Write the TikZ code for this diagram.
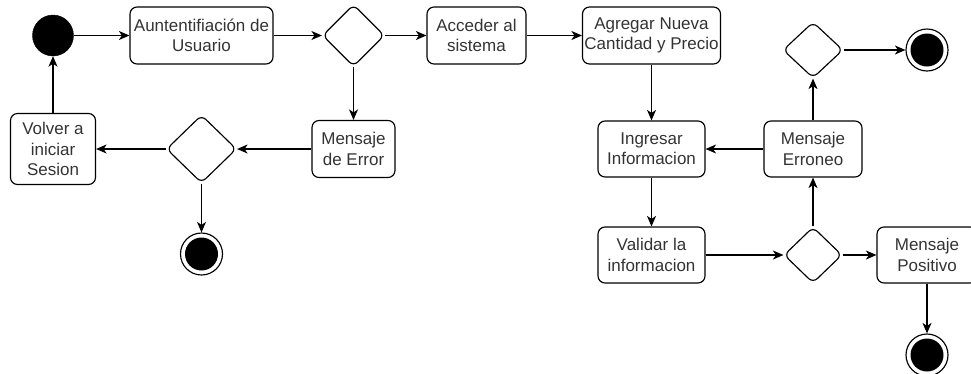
\documentclass[tikz,border=0pt]{standalone}
\usepackage{fontspec}
\setmainfont{Liberation Sans}
\usetikzlibrary{shapes.geometric,arrows.meta}
\definecolor{txt}{HTML}{333333}
\begin{document}
\begin{tikzpicture}[x=1pt,y=-1pt,
  every node/.style={font=\fontsize{17}{20.4}\selectfont, text=txt},
  box/.style={draw, rounded corners=7pt, line width=1.15pt, align=center, inner sep=0pt},
  dec/.style={draw, diamond, rounded corners=6pt, line width=1.15pt, inner sep=0pt},
  startst/.style={circle, fill=black, draw=black, inner sep=0pt, minimum size=41pt},
  endst/.style={circle, draw=black, line width=1.15pt, inner sep=0pt, minimum size=42pt,
    path picture={\fill[black] (path picture bounding box.center) circle (16.5pt);}},
  flow/.style={line width=1.15pt, -{Stealth[length=10.5pt,width=9pt,inset=3pt]}}
]
\useasboundingbox (0,0) rectangle (971,373);

% top row
\node[startst] (start) at (53,35.5) {};
\node[box, minimum width=143pt, minimum height=57pt] (auth) at (201.5,35.5) {Auntentifiación de\\Usuario};
\node[dec, minimum width=62pt, minimum height=62pt] (d1) at (353.5,35.5) {};
\node[box, minimum width=99pt, minimum height=57pt] (acc) at (476.5,35.5) {Acceder al\\sistema};
\node[box, minimum width=138pt, minimum height=57pt] (agr) at (651.5,35.5) {Agregar Nueva\\Cantidad y Precio};
\node[dec, minimum width=60pt, minimum height=56pt] (d2) at (813,50) {};
\node[endst] (end1) at (927,50) {};

% middle row
\node[box, minimum width=85pt, minimum height=71pt] (vol) at (53,149) {Volver a\\iniciar\\Sesion};
\node[dec, minimum width=70pt, minimum height=68pt] (d3) at (201.5,149) {};
\node[box, minimum width=83pt, minimum height=57pt] (err) at (353.5,149) {Mensaje\\de Error};
\node[endst] (end2) at (201.5,254) {};
\node[box, minimum width=107pt, minimum height=56pt] (ing) at (651.5,149) {Ingresar\\Informacion};
\node[box, minimum width=98pt, minimum height=56pt] (ero) at (813,149) {Mensaje\\Erroneo};

% bottom row
\node[box, minimum width=107pt, minimum height=56pt] (val) at (651.5,255) {Validar la\\informacion};
\node[dec, minimum width=58pt, minimum height=56pt] (d4) at (813,255) {};
\node[box, minimum width=100pt, minimum height=56pt] (pos) at (927,255) {Mensaje\\Positivo};
\node[endst] (end3) at (927,355) {};

% connectors
\draw[flow] (start) -- (auth);
\draw[flow] (auth) -- (d1);
\draw[flow] (d1) -- (acc);
\draw[flow] (acc) -- (agr);
\draw[flow] (agr) -- (ing);
\draw[flow] (ing) -- (val);
\draw[flow] (val) -- (d4);
\draw[flow] (d4) -- (pos);
\draw[flow] (d4) -- (ero);
\draw[flow] (ero) -- (ing);
\draw[flow] (ero) -- (d2);
\draw[flow] (d2) -- (end1);
\draw[flow] (pos) -- (end3);
\draw[flow] (d1) -- (err);
\draw[flow] (err) -- (d3);
\draw[flow] (d3) -- (vol);
\draw[flow] (vol) -- (start);
\draw[flow] (d3) -- (end2);
\end{tikzpicture}
\end{document}
